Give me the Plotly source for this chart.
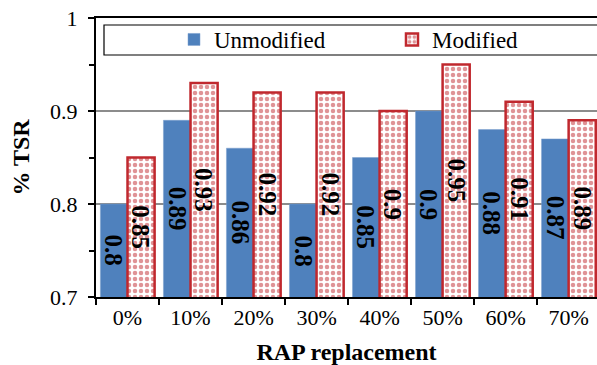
import plotly.graph_objects as go

categories = ["0%", "10%", "20%", "30%", "40%", "50%", "60%", "70%"]
unmodified = [0.80, 0.89, 0.86, 0.80, 0.85, 0.90, 0.88, 0.87]
modified = [0.85, 0.93, 0.92, 0.92, 0.90, 0.95, 0.91, 0.89]
y_min, y_max = 0.7, 1.0

SERIF = "Liberation Serif"
RED = "#c0282e"
BLUE = "#4f81bd"
BARGAP = 0.14

fig = go.Figure()
fig.add_trace(go.Bar(
    x=categories, y=unmodified, name="Unmodified", legend="legend",
    marker=dict(color=BLUE, line=dict(color="#7a9fcc", width=0.5)),
))
fig.add_trace(go.Bar(
    x=categories, y=modified, name="Modified", legend="legend2",
    marker=dict(color="white", line=dict(color=RED, width=2.5),
                pattern=dict(shape=".", fgcolor=RED, bgcolor="white", size=6, solidity=0.45)),
))

# value labels, centred in each bar, rotated
plot_w = 501
x_range = [-0.5, 7.45]
cat_px = plot_w / (x_range[1] - x_range[0])
half_bar = cat_px * (1 - BARGAP) / 4
annotations = []
for series, shift in ((unmodified, -half_bar), (modified, half_bar)):
    for c, v in zip(categories, series):
        annotations.append(dict(
            x=c, y=(y_min + v) / 2, xref="x", yref="y", text=f"<b>{v:g}</b>",
            showarrow=False, textangle=90, xshift=shift,
            font=dict(family=SERIF, size=25, color="black"),
        ))

leg_common = dict(orientation="h", xanchor="left", y=1.0, yanchor="top",
                  bgcolor="rgba(0,0,0,0)", borderwidth=0,
                  font=dict(family=SERIF, size=23, color="black"), itemwidth=30)

fig.update_layout(
    width=597, height=365,
    margin=dict(l=96, r=0, t=18, b=68),
    paper_bgcolor="white", plot_bgcolor="white",
    barmode="group", bargap=BARGAP, bargroupgap=0,
    font=dict(family=SERIF, size=22, color="black"),
    showlegend=True,
    legend=dict(x=0.1557, **leg_common),
    legend2=dict(x=0.5908, **leg_common),
    annotations=annotations,
    shapes=[dict(type="rect", xref="paper", yref="paper",
                 x0=(104 - 96) / 501, x1=1.05, y0=(297 - 55) / 279, y1=(297 - 25) / 279,
                 line=dict(color="black", width=1.2), fillcolor="white", layer="below")],
)
fig.update_xaxes(
    type="category", range=x_range,
    showline=True, linecolor="black", linewidth=2, mirror=True,
    ticks="outside", tickson="boundaries", ticklen=6, tickwidth=2, tickcolor="black",
    showgrid=False,
    tickfont=dict(family=SERIF, size=22),
    title=dict(text="<b>RAP replacement</b>", font=dict(family=SERIF, size=24), standoff=15),
)
fig.update_yaxes(
    range=[y_min, y_max], dtick=0.1, tick0=0.7,
    showline=True, linecolor="black", linewidth=2,
    ticks="outside", ticklen=6, tickwidth=2, tickcolor="black",
    minor=dict(dtick=0.05, ticks="outside", ticklen=5, tickwidth=1.5, tickcolor="black", showgrid=False),
    showgrid=True, gridcolor="#8c8c8c", gridwidth=2,
    tickfont=dict(family=SERIF, size=22),
    ticklabelstandoff=6,
    title=dict(text="<b>% TSR</b>", font=dict(family=SERIF, size=24), standoff=14),
)

fig.write_html("out.html")
